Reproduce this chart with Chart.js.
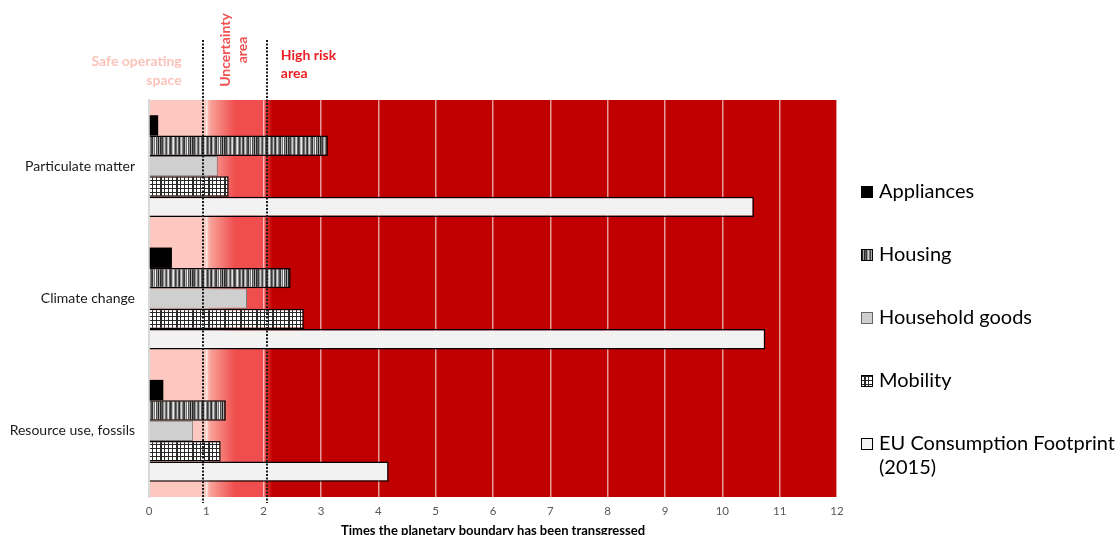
<!DOCTYPE html>
<html><head><meta charset="utf-8">
<script src="https://cdn.jsdelivr.net/npm/chart.js@4.4.0/dist/chart.umd.min.js"></script>
<style>html,body{margin:0;padding:0;background:#fff;}canvas{display:block;}</style>
</head><body>
<canvas id="c" width="1120" height="535"></canvas>
<script>
// ---- data ----
const categories = ['Particulate matter', 'Climate change', 'Resource use, fossils'];
const seriesNames = ['Appliances', 'Housing', 'Household goods', 'Mobility', 'EU Consumption Footprint (2015)'];
const appliances = [0.16, 0.40, 0.25];
const housing = [3.12, 2.47, 1.34];
const householdGoods = [1.20, 1.71, 0.77];
const mobility = [1.39, 2.70, 1.25];
const euFootprint = [10.55, 10.75, 4.18];
const xTickLabels = ['0','1','2','3','4','5','6','7','8','9','10','11','12'];
const xTitle = 'Times the planetary boundary has been transgressed';
const boundaryLines = [0.95, 2.05];
const safeLabel = ['Safe operating', 'space'];
const uncertaintyLabel = ['Uncertainty', 'area'];
const highRiskLabel = ['High risk', 'area'];

const FONT = 'Lato, "Open Sans", sans-serif';

// ---- patterns ----
function makePattern(w, h, draw) {
  const c = document.createElement('canvas'); c.width = w; c.height = h;
  const g = c.getContext('2d'); draw(g, w, h);
  return document.getElementById('c').getContext('2d').createPattern(c, 'repeat');
}
const stripeShades = [40,95,60,150,205,120,70,175,225,100,50,85,185,235,140,60,110,200,90,45,165,215,130,75,55,190,120,240,80,150,35,170];
const housingPattern = makePattern(stripeShades.length, 8, (g, w, h) => {
  stripeShades.forEach((s, i) => { g.fillStyle = `rgb(${s},${s},${s})`; g.fillRect(i, 0, 1, h); });
});
const mobilityPattern = makePattern(16, 16, (g, w, h) => {
  g.fillStyle = '#ffffff'; g.fillRect(0, 0, w, h);
  g.fillStyle = '#2a2a2a';
  for (let i = 0; i < 16; i += 4) { g.fillRect(i, 0, 1, h); g.fillRect(0, i, w, 1); }
  g.fillRect(1, 0, 1, h);
});

// ---- plugins ----
const zonesPlugin = {
  id: 'zones',
  beforeDraw(chart) {
    const {ctx, chartArea: {left, right, top, bottom}, scales: {x}} = chart;
    const w = right - left;
    const s = v => Math.min(1, Math.max(0, (x.getPixelForValue(v) - left) / w));
    const g = ctx.createLinearGradient(left, 0, right, 0);
    g.addColorStop(0, '#fcc8c0');
    g.addColorStop(s(1.0), '#fcc8c0');
    g.addColorStop(s(1.08), '#f7a097');
    g.addColorStop(s(1.5), '#f04e4e');
    g.addColorStop(s(2.0), '#f04e4e');
    g.addColorStop(s(2.15), '#c00000');
    g.addColorStop(1, '#c00000');
    ctx.save(); ctx.fillStyle = g; ctx.fillRect(left, top, w, bottom - top); ctx.restore();
  },
  afterDatasetsDraw(chart) {
    const {ctx, scales: {x}} = chart;
    ctx.save();
    ctx.strokeStyle = '#1a1a1a'; ctx.lineWidth = 2; ctx.setLineDash([2, 1.5]);
    boundaryLines.forEach(v => {
      const px = Math.round(x.getPixelForValue(v));
      ctx.beginPath(); ctx.moveTo(px, 40); ctx.lineTo(px, 503); ctx.stroke();
    });
    ctx.restore();
  },
  afterDraw(chart) {
    const {ctx, scales: {x}} = chart;
    ctx.save();
    ctx.font = `bold 14px ${FONT}`;
    ctx.textBaseline = 'middle';
    // safe operating space
    ctx.fillStyle = '#fbc2b9'; ctx.textAlign = 'right';
    safeLabel.forEach((t, i) => ctx.fillText(t, x.getPixelForValue(0.57), 61 + i * 19));
    // high risk
    ctx.fillStyle = '#ee1c24'; ctx.textAlign = 'left';
    highRiskLabel.forEach((t, i) => ctx.fillText(t, x.getPixelForValue(2.3), 55 + i * 18));
    // uncertainty (rotated)
    ctx.fillStyle = '#f05050'; ctx.textAlign = 'center';
    uncertaintyLabel.forEach((t, i) => {
      ctx.save();
      ctx.translate(x.getPixelForValue(1.34) + i * 17, 50);
      ctx.rotate(-Math.PI / 2);
      ctx.fillText(t, 0, 0);
      ctx.restore();
    });
    // legend
    ctx.font = `20px ${FONT}`;
    ctx.textAlign = 'left';
    let y = 192;
    chart.data.datasets.forEach(ds => {
      ctx.fillStyle = ds.backgroundColor; ctx.fillRect(861, y - 6, 12, 12);
      ctx.strokeStyle = ds.borderColor === '#000000' ? '#000' : '#666';
      ctx.lineWidth = 1; ctx.setLineDash([]);
      ctx.strokeRect(861.5, y - 5.5, 11, 11);
      ctx.fillStyle = '#000';
      const words = ds.label.split(' ');
      const lines = []; let cur = '';
      words.forEach(wd => {
        const test = cur ? cur + ' ' + wd : wd;
        if (ctx.measureText(test).width > 245 && cur) { lines.push(cur); cur = wd; } else cur = test;
      });
      lines.push(cur);
      lines.forEach((l, j) => ctx.fillText(l, 879, y + j * 24));
      y += 63;
    });
    ctx.restore();
  }
};

const border = '#000000';
new Chart(document.getElementById('c'), {
  type: 'bar',
  data: {
    labels: categories,
    datasets: [
      {label: seriesNames[0], data: appliances, backgroundColor: '#000000', borderColor: '#000000', borderWidth: 0},
      {label: seriesNames[1], data: housing, backgroundColor: housingPattern, borderColor: border, borderWidth: 1.5},
      {label: seriesNames[2], data: householdGoods, backgroundColor: '#d0cfcf', borderColor: '#7a7a7a', borderWidth: 1},
      {label: seriesNames[3], data: mobility, backgroundColor: mobilityPattern, borderColor: border, borderWidth: 1.5},
      {label: seriesNames[4], data: euFootprint, backgroundColor: '#f2f2f2', borderColor: border, borderWidth: 1.5}
    ]
  },
  options: {
    indexAxis: 'y',
    responsive: false,
    animation: false,
    categoryPercentage: 0.77,
    barPercentage: 1.0,
    layout: {padding: {top: 100, right: 283, left: 0, bottom: 0}},
    plugins: {legend: {display: false}, tooltip: {enabled: false}},
    scales: {
      x: {
        min: 0, max: 12,
        ticks: {stepSize: 1, color: '#595959', font: {family: FONT, size: 11.5}, padding: 7,
          callback: v => xTickLabels[v]},
        grid: {color: c => c.tick && c.tick.value === 0 ? '#d9d9d9' : 'rgba(255,255,255,0.6)', lineWidth: 1.5, drawTicks: false},
        border: {display: false},
        title: {display: true, text: xTitle, color: '#000', font: {family: FONT, size: 13, weight: 'bold', lineHeight: 1}, padding: {top: 0, bottom: -2}},
        afterFit: s => { s.height = 38; }
      },
      y: {
        ticks: {color: '#1a1a1a', font: {family: FONT, size: 14}, padding: 6},
        grid: {display: false},
        border: {display: true, color: '#d9d9d9', width: 2},
        afterFit: s => { s.width = 149; }
      }
    }
  },
  plugins: [zonesPlugin]
});
</script>
</body></html>
